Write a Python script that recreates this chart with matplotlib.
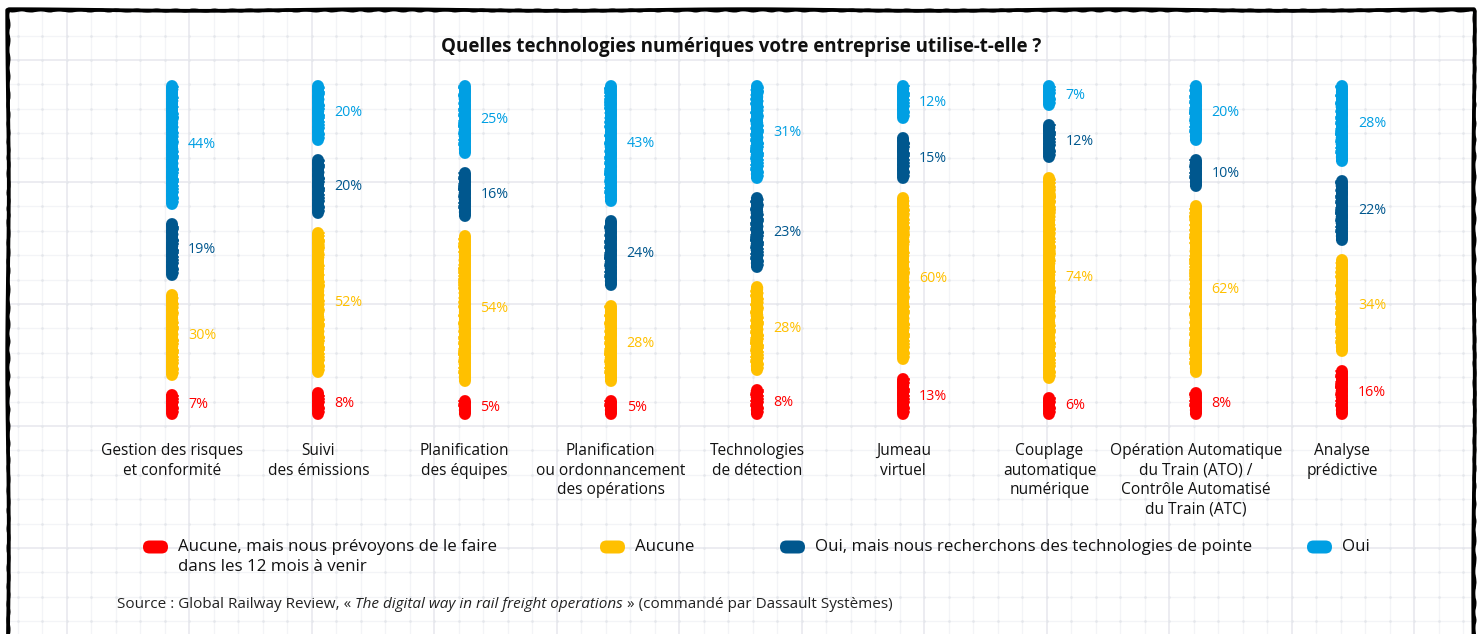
import matplotlib
matplotlib.use("Agg")
import matplotlib.pyplot as plt
from matplotlib.patches import FancyBboxPatch
from matplotlib.transforms import blended_transform_factory
import numpy as np

plt.rcParams['font.family'] = ['Open Sans', 'DejaVu Sans']

categories = [
    "Gestion des risques\net conformité",
    "Suivi\ndes émissions",
    "Planification\ndes équipes",
    "Planification\nou ordonnancement\ndes opérations",
    "Technologies\nde détection",
    "Jumeau\nvirtuel",
    "Couplage\nautomatique\nnumérique",
    "Opération Automatique\ndu Train (ATO) /\nContrôle Automatisé\ndu Train (ATC)",
    "Analyse\nprédictive",
]

# stacked from the bottom up
aucune_prevu = [7, 8, 5, 5, 8, 13, 6, 8, 16]
aucune = [30, 52, 54, 28, 28, 60, 74, 62, 34]
oui_recherche = [19, 20, 16, 24, 23, 15, 12, 10, 22]
oui = [44, 20, 25, 43, 31, 12, 7, 20, 28]

series_names = [
    "Aucune, mais nous prévoyons de le faire\ndans les 12 mois à venir",
    "Aucune",
    "Oui, mais nous recherchons des technologies de pointe",
    "Oui",
]
series_values = [aucune_prevu, aucune, oui_recherche, oui]
colors = ["#FF0000", "#FFC000", "#00578E", "#009FE3"]

title = "Quelles technologies numériques votre entreprise utilise-t-elle ?"

W, H = 1481, 634
fig = plt.figure(figsize=(W / 100, H / 100), dpi=100)
fig.patch.set_facecolor("white")

# background: grid paper + hand drawn frame, in pixel coordinates
bg = fig.add_axes([0, 0, 1, 1], zorder=-5)
bg.set_xlim(0, W)
bg.set_ylim(H, 0)
bg.axis("off")

left, right, top = 8, 1474, 10
xs = np.arange(17.5, right, 24.5)
ys = np.arange(11.2, H + 1, 24.4)
for k, x in enumerate(xs):
    major = (k % 5 == 2)
    bg.plot([x, x], [top, H], color="#eaebf0" if major else "#f3f4f7",
            lw=1.3 if major else 0.9, zorder=0)
for k, y in enumerate(ys):
    if y < top:
        continue
    major = (k % 5 == 2)
    bg.plot([left, right], [y, y], color="#eaebf0" if major else "#f3f4f7",
            lw=1.3 if major else 0.9, zorder=0)
gx, gy = np.meshgrid(xs, ys[ys > top])
bg.scatter(gx.ravel(), gy.ravel(), s=3.5, color="#e4e6eb", lw=0, zorder=1)

frame, = bg.plot([left, left, right, right], [H + 5, top, top, H + 5],
                 color="black", lw=2.7, solid_joinstyle="round", zorder=2)
frame.set_sketch_params(0.8, 400, 2)
frame2, = bg.plot([left, left, right, right], [H + 5, top, top, H + 5],
                  color="black", lw=2.0, zorder=2)
frame2.set_sketch_params(0.6, 20, 2)

# bars
gap = 7.5
n = len(categories)
ax = fig.add_axes([99 / W, 220 / H, 1316 / W, 328 / H])
ax.set_xlim(-0.5, n - 0.5)
total_span = 100 + 3 * gap
ax.set_ylim(0, total_span)
ax.axis("off")
ax.patch.set_alpha(0)

for i in range(n):
    vals = [s[i] for s in series_values]
    tot = sum(vals)
    y = 0.0
    for j, v in enumerate(vals):
        h = v / tot * 100
        y0, y1 = y, y + h
        c = colors[j]
        ax.plot([i, i], [y0, y1], color=c, lw=8.6, solid_capstyle="round",
                zorder=3, clip_on=False)
        # thin ragged edge strokes
        for dx in (-4.6, 4.6):
            ln, = ax.plot([i, i], [y0, y1], color=c, lw=1.6,
                          solid_capstyle="round", zorder=3, clip_on=False,
                          transform=ax.transData + matplotlib.transforms.Affine2D().translate(dx, 0))
            ln.set_sketch_params(0.9, 2.5, 6)
        ax.annotate(f"{v}%", xy=(i, (y0 + y1) / 2), xytext=(11.5, 0),
                    textcoords="offset points", ha="left", va="center",
                    color=c, fontsize=10.3)
        y = y1 + gap

tr = blended_transform_factory(ax.transData, fig.transFigure)
for i, lab in enumerate(categories):
    ax.text(i, 1 - 443 / H, lab, transform=tr, ha="center", va="top",
            fontsize=11.2, linespacing=1.3, color="#111111")

fig.text(741 / W, 1 - 47 / H, title, ha="center", va="center",
         fontsize=13.5, fontweight="bold", color="#111111")

# legend
leg_x = [143, 600, 780, 1307]
for j, name in enumerate(series_names):
    x = leg_x[j]
    bg.add_patch(FancyBboxPatch((x, 547 - 6.5), 25, 13,
                                boxstyle="round,pad=0,rounding_size=6.5",
                                fc=colors[j], ec="none", zorder=4))
    for k, line in enumerate(name.split("\n")):
        bg.text(x + 35, 547 + 20 * k, line, ha="left", va="center",
                fontsize=12.2, color="#111111", zorder=4)

# source line with italic title
fig.canvas.draw()
renderer = fig.canvas.get_renderer()
pieces = [("Source : Global Railway Review, « ", "normal"),
          ("The digital way in rail freight operations", "italic"),
          (" » (commandé par Dassault Systèmes)", "normal")]
sx = 117
for txt, style in pieces:
    t = bg.text(sx, 604, txt, ha="left", va="center", fontsize=11.0,
                fontstyle=style, color="#222222", zorder=4)
    bb = t.get_window_extent(renderer)
    sx += bb.width

fig.savefig("out.png", dpi=100, facecolor="white")
